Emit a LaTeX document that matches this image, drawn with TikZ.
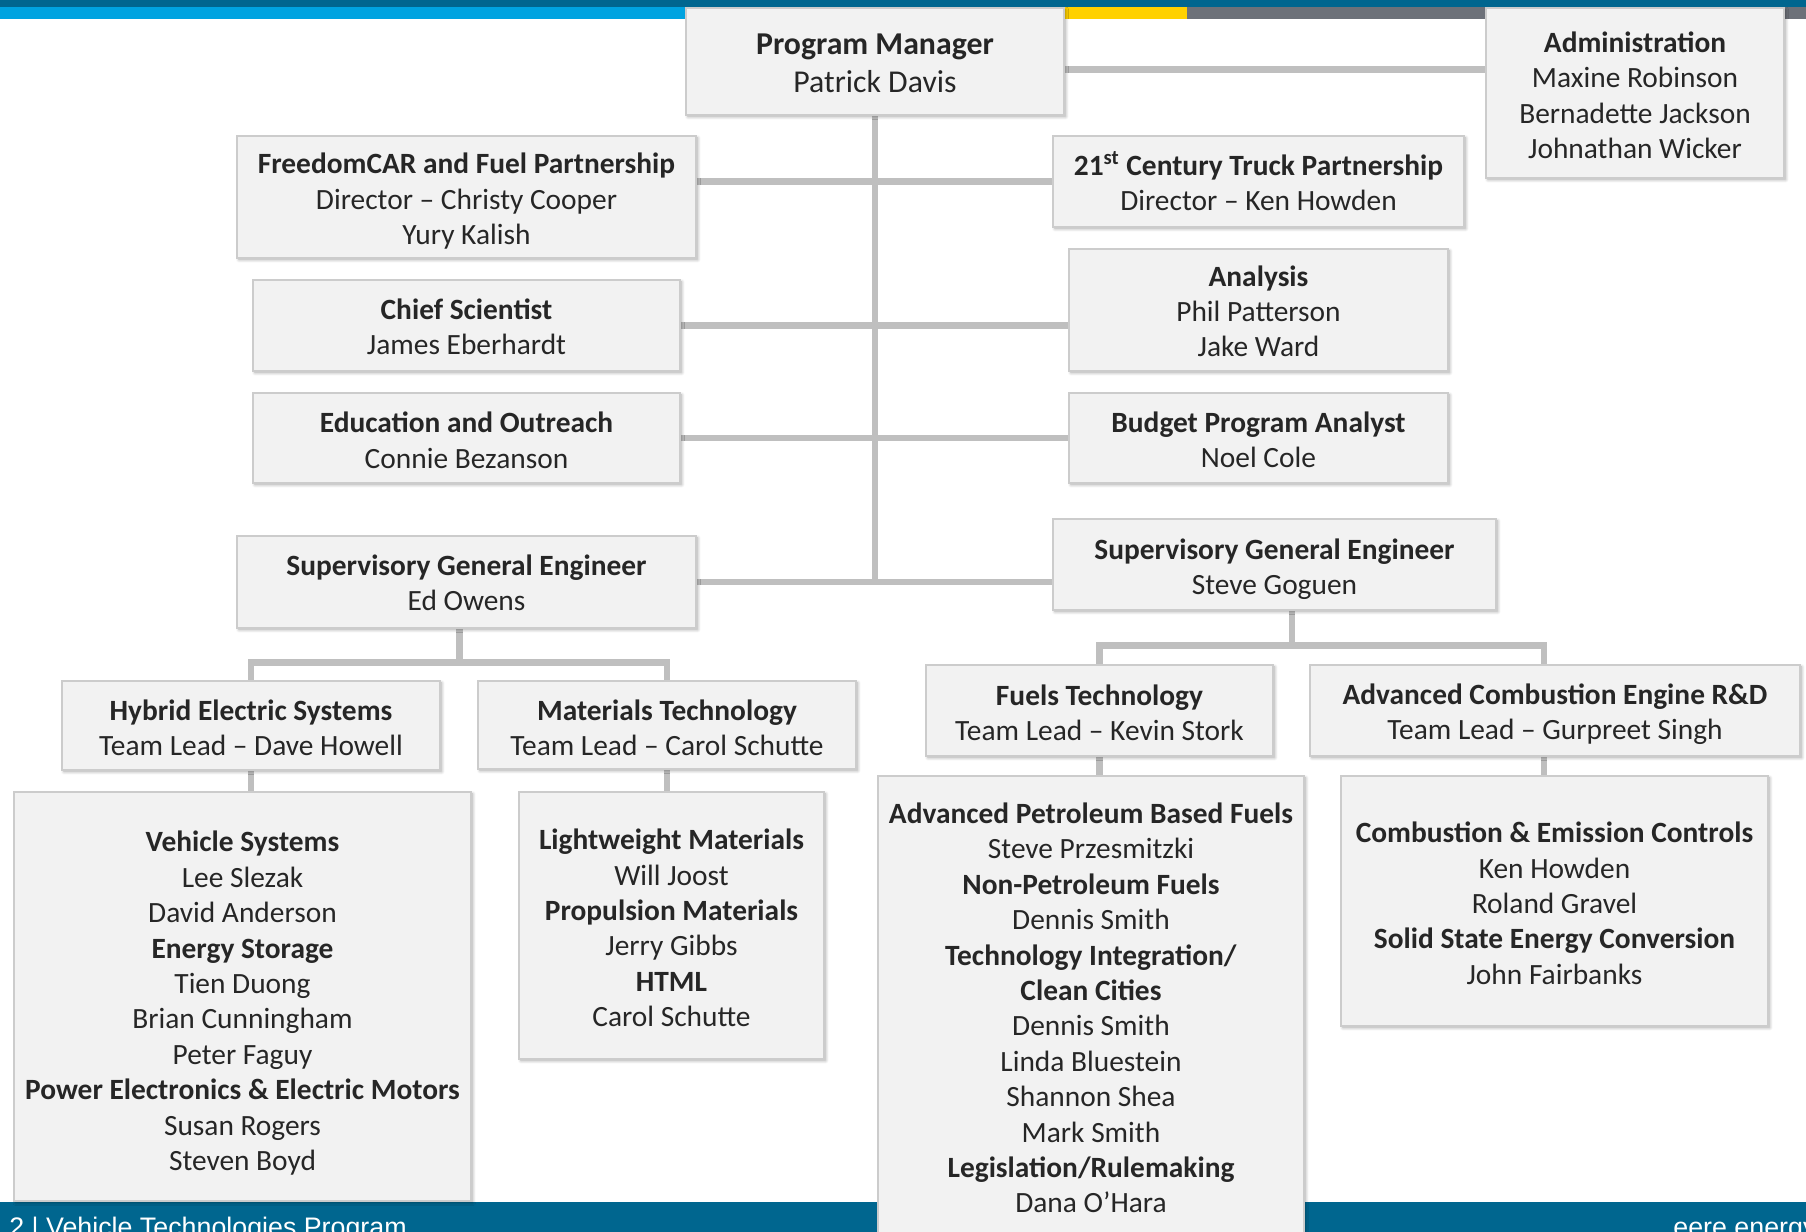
\documentclass[tikz,border=0pt]{standalone}
\usepackage{fontspec}
\setmainfont{Carlito}
\newfontfamily\footerfont{Liberation Sans}
\usetikzlibrary{backgrounds,shadows.blur}

\definecolor{barblue}{HTML}{00668F}
\definecolor{skyblue}{HTML}{00A3E0}
\definecolor{sun}{HTML}{FFD100}
\definecolor{slate}{HTML}{6D7179}
\definecolor{boxfill}{HTML}{F2F2F2}
\definecolor{boxline}{HTML}{CCCCCC}
\definecolor{wiregray}{HTML}{BFBFBF}
\definecolor{ink}{HTML}{262626}

% \lift adds headroom above the first line so the block sits a little lower
\newcommand\lift[1]{\rule{0pt}{#1}}

\tikzset{
  orgbox/.style={rectangle, fill=boxfill, draw=boxline, line width=0.8pt,
    inner sep=0pt, align=center, text=ink,
    font=\fontsize{14.7}{17.7}\selectfont,
    blur shadow={shadow xshift=0.9pt, shadow yshift=-0.9pt,
      shadow blur radius=1.4pt, shadow opacity=35}},
  wire/.style={draw=wiregray, line width=3.25pt},
  footertext/.style={anchor=base west, inner sep=0pt, text=white,
    font=\footerfont\fontsize{13.4}{15}\selectfont}
}

\begin{document}
\begin{tikzpicture}[x=0.5pt, y=-0.5pt]
\useasboundingbox (0,0) rectangle (1806,1232);

% header stripes
\fill[barblue] (0,0) rectangle (1806,7);
\fill[skyblue] (0,7) rectangle (923,19);
\fill[sun] (923,7) rectangle (1187,19);
\fill[slate] (1187,7) rectangle (1806,19);

% footer band
\fill[barblue] (0,1202) rectangle (1806,1245);
\node[footertext] (pagelabel) at (9,1236) {2 | Vehicle Technologies Program};
\node[footertext] (weblabel) at (1673,1236) {eere.energy.gov};

% top level
\node[orgbox, font=\fontsize{15.9}{19}\selectfont,
      minimum width=189pt, minimum height=53.5pt] (pm) at (875,61.5)
  {\lift{12.1pt}\textbf{Program Manager}\\Patrick Davis};
\node[orgbox, minimum width=149pt, minimum height=85pt] (admin) at (1635,93)
  {\lift{12.7pt}\textbf{Administration}\\Maxine Robinson\\Bernadette Jackson\\Johnathan Wicker};

% staff offices
\node[orgbox, minimum width=229.5pt, minimum height=61pt] (fcfp) at (466.5,197)
  {\lift{14.7pt}\textbf{FreedomCAR and Fuel Partnership}\\Director – Christy Cooper\\Yury Kalish};
\node[orgbox, minimum width=205.5pt, minimum height=45.5pt] (ctp) at (1258.5,181.5)
  {\textbf{21\textsuperscript{st} Century Truck Partnership}\\Director – Ken Howden};
\node[orgbox, minimum width=213.5pt, minimum height=45.5pt] (chief) at (466.5,325.5)
  {\lift{11.7pt}\textbf{Chief Scientist}\\James Eberhardt};
\node[orgbox, minimum width=189.5pt, minimum height=61pt] (analysis) at (1258.5,310)
  {\lift{11.7pt}\textbf{Analysis}\\Phil Patterson\\Jake Ward};
\node[orgbox, minimum width=213.5pt, minimum height=45pt] (edu) at (466.5,438)
  {\lift{12.8pt}\textbf{Education and Outreach}\\Connie Bezanson};
\node[orgbox, minimum width=189.5pt, minimum height=45pt] (budget) at (1258.5,438)
  {\lift{12.2pt}\textbf{Budget Program Analyst}\\Noel Cole};

% engineering branches
\node[orgbox, minimum width=229.5pt, minimum height=46pt] (sgeL) at (466.5,582)
  {\lift{10.9pt}\textbf{Supervisory General Engineer}\\Ed Owens};
\node[orgbox, minimum width=221.5pt, minimum height=45.5pt] (sgeR) at (1274.5,564.5)
  {\lift{15pt}\textbf{Supervisory General Engineer}\\Steve Goguen};

% left teams
\node[orgbox, minimum width=189pt, minimum height=44.5pt] (hes) at (251,725.5)
  {\lift{12.8pt}\textbf{Hybrid Electric Systems}\\Team Lead – Dave Howell};
\node[orgbox, minimum width=189pt, minimum height=44pt] (mat) at (667,725)
  {\lift{12.9pt}\textbf{Materials Technology}\\Team Lead – Carol Schutte};
\node[orgbox, minimum width=228.5pt, minimum height=204.5pt] (vs) at (242.5,996.5)
  {\lift{17pt}\textbf{Vehicle Systems}\\Lee Slezak\\David Anderson\\\textbf{Energy Storage}\\Tien Duong\\Brian Cunningham\\Peter Faguy\\\textbf{Power Electronics \& Electric Motors}\\Susan Rogers\\Steven Boyd};
\node[orgbox, minimum width=152.5pt, minimum height=133.5pt] (lw) at (671.5,925.5)
  {\lift{12.8pt}\textbf{Lightweight Materials}\\Will Joost\\\textbf{Propulsion Materials}\\Jerry Gibbs\\\textbf{HTML}\\Carol Schutte};

% right teams
\node[orgbox, minimum width=173.5pt, minimum height=45.5pt] (fuels) at (1099.5,710.5)
  {\lift{12.8pt}\textbf{Fuels Technology}\\Team Lead – Kevin Stork};
\node[orgbox, minimum width=245pt, minimum height=45.5pt] (ace) at (1555,710.5)
  {\lift{14.2pt}\textbf{Advanced Combustion Engine R\&D}\\Team Lead – Gurpreet Singh};
\node[orgbox, minimum width=213pt, minimum height=232pt] (apf) at (1091,1008)
  {\textbf{Advanced Petroleum Based Fuels}\\Steve Przesmitzki\\\textbf{Non-Petroleum Fuels}\\Dennis Smith\\\textbf{Technology Integration/}\\\textbf{Clean Cities}\\Dennis Smith\\Linda Bluestein\\Shannon Shea\\Mark Smith\\\textbf{Legislation/Rulemaking}\\Dana O’Hara};
\node[orgbox, minimum width=213.5pt, minimum height=125pt] (cec) at (1554.5,901)
  {\lift{12.6pt}\textbf{Combustion \& Emission Controls}\\Ken Howden\\Roland Gravel\\\textbf{Solid State Energy Conversion}\\John Fairbanks};

% bus junctions
\coordinate (busL) at (459.5,662.5);
\coordinate (busR) at (1292,645.5);
\coordinate (aceDrop) at (1544,665);

\begin{scope}[on background layer]
  \draw[wire] ([yshift=-4pt]pm.east) -- ([yshift=-4pt]pm.east -| admin.west);
  \draw[wire] (pm.south) -- (pm.south |- sgeL.east);
  \draw[wire] (fcfp.east |- ctp.west) -- (ctp.west);
  \draw[wire] (chief.east) -- (chief.east -| analysis.west);
  \draw[wire] (edu.east) -- (budget.west);
  \draw[wire] (sgeL.east) -- (sgeL.east -| sgeR.west);
  % left branch
  \draw[wire] (sgeL.south -| busL) -- (busL);
  \draw[wire] (hes.north) |- (busL) -| (mat.north);
  \draw[wire] (hes.south) -- (hes.south |- vs.north);
  \draw[wire] (mat.south) -- (mat.south |- lw.north);
  % right branch
  \draw[wire] (sgeR.south -| busR) -- (busR);
  \draw[wire] (fuels.north) |- (busR) -| (aceDrop);
  \draw[wire] (fuels.south) -- (fuels.south |- apf.north);
  \draw[wire] (aceDrop |- ace.south) -- (aceDrop |- cec.north);
\end{scope}
\end{tikzpicture}
\end{document}
